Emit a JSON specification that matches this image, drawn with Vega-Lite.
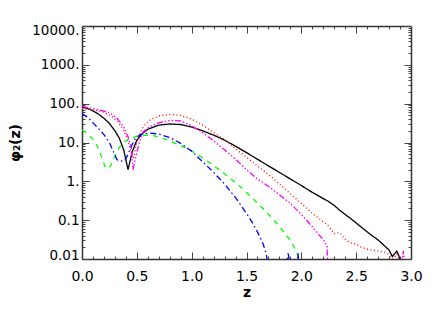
{
  "$schema": "https://vega.github.io/schema/vega-lite/v6.json",
  "width": 329,
  "height": 233,
  "autosize": {"type": "none"},
  "padding": {"left": 82, "top": 26, "right": 25, "bottom": 53},
  "background": "white",
  "config": {
    "view": {"stroke": null},
    "font": "DejaVu Sans",
    "axis": {
      "grid": false,
      "domainColor": "#333",
      "domainWidth": 1.5,
      "tickColor": "#444",
      "tickWidth": 1,
      "labelFont": "DejaVu Sans",
      "labelFontSize": 14,
      "labelColor": "#000",
      "titleFont": "DejaVu Sans",
      "titleFontSize": 14,
      "titleColor": "#000"
    }
  },
  "data": {
    "values": [
      {"z":0,"v":81,"s":"k"},{"z":0.05,"v":75,"s":"k"},{"z":0.1,"v":65,"s":"k"},{"z":0.15,"v":54,"s":"k"},{"z":0.2,"v":42,"s":"k"},{"z":0.25,"v":31,"s":"k"},{"z":0.3,"v":20,"s":"k"},{"z":0.34,"v":13,"s":"k"},{"z":0.38,"v":6.5,"s":"k"},{"z":0.42,"v":2.0,"s":"k"},{"z":0.44,"v":3.5,"s":"k"},{"z":0.46,"v":6,"s":"k"},{"z":0.5,"v":11.5,"s":"k"},{"z":0.55,"v":17,"s":"k"},{"z":0.6,"v":22,"s":"k"},{"z":0.7,"v":28,"s":"k"},{"z":0.8,"v":30,"s":"k"},{"z":0.9,"v":29,"s":"k"},{"z":1.0,"v":25,"s":"k"},{"z":1.1,"v":20,"s":"k"},{"z":1.2,"v":15.5,"s":"k"},{"z":1.3,"v":11.5,"s":"k"},{"z":1.4,"v":8,"s":"k"},{"z":1.5,"v":5.5,"s":"k"},{"z":1.6,"v":3.7,"s":"k"},{"z":1.7,"v":2.5,"s":"k"},{"z":1.8,"v":1.7,"s":"k"},{"z":1.9,"v":1.15,"s":"k"},{"z":2.0,"v":0.78,"s":"k"},{"z":2.1,"v":0.52,"s":"k"},{"z":2.2,"v":0.36,"s":"k"},{"z":2.25,"v":0.3,"s":"k"},{"z":2.3,"v":0.24,"s":"k"},{"z":2.35,"v":0.18,"s":"k"},{"z":2.4,"v":0.14,"s":"k"},{"z":2.45,"v":0.11,"s":"k"},{"z":2.5,"v":0.085,"s":"k"},{"z":2.55,"v":0.065,"s":"k"},{"z":2.6,"v":0.05,"s":"k"},{"z":2.65,"v":0.039,"s":"k"},{"z":2.7,"v":0.031,"s":"k"},{"z":2.75,"v":0.023,"s":"k"},{"z":2.8,"v":0.017,"s":"k"},{"z":2.83,"v":0.0115,"s":"k"},{"z":2.87,"v":0.016,"s":"k"},{"z":2.89,"v":0.012,"s":"k"},{"z":2.91,"v":0.008,"s":"k"},
      {"z":0,"v":75,"s":"r"},{"z":0.1,"v":70,"s":"r"},{"z":0.2,"v":60,"s":"r"},{"z":0.28,"v":45,"s":"r"},{"z":0.33,"v":33,"s":"r"},{"z":0.38,"v":21,"s":"r"},{"z":0.42,"v":11,"s":"r"},{"z":0.45,"v":5,"s":"r"},{"z":0.47,"v":3.8,"s":"r"},{"z":0.49,"v":8,"s":"r"},{"z":0.52,"v":15,"s":"r"},{"z":0.56,"v":26,"s":"r"},{"z":0.62,"v":38,"s":"r"},{"z":0.7,"v":48,"s":"r"},{"z":0.8,"v":53,"s":"r"},{"z":0.9,"v":50,"s":"r"},{"z":1.0,"v":40,"s":"r"},{"z":1.1,"v":28,"s":"r"},{"z":1.2,"v":18,"s":"r"},{"z":1.3,"v":12,"s":"r"},{"z":1.4,"v":6.8,"s":"r"},{"z":1.5,"v":4.2,"s":"r"},{"z":1.6,"v":2.5,"s":"r"},{"z":1.7,"v":1.5,"s":"r"},{"z":1.8,"v":0.85,"s":"r"},{"z":1.9,"v":0.48,"s":"r"},{"z":2.0,"v":0.27,"s":"r"},{"z":2.1,"v":0.15,"s":"r"},{"z":2.2,"v":0.09,"s":"r"},{"z":2.25,"v":0.07,"s":"r"},{"z":2.3,"v":0.045,"s":"r"},{"z":2.35,"v":0.048,"s":"r"},{"z":2.4,"v":0.032,"s":"r"},{"z":2.45,"v":0.026,"s":"r"},{"z":2.5,"v":0.024,"s":"r"},{"z":2.55,"v":0.02,"s":"r"},{"z":2.6,"v":0.018,"s":"r"},{"z":2.7,"v":0.016,"s":"r"},{"z":2.78,"v":0.0145,"s":"r"},{"z":2.82,"v":0.011,"s":"r"},{"z":2.84,"v":0.009,"s":"r"},{"z":2.87,"v":0.015,"s":"r"},{"z":2.89,"v":0.008,"s":"r"},
      {"z":0,"v":85,"s":"m"},{"z":0.1,"v":75,"s":"m"},{"z":0.2,"v":64,"s":"m"},{"z":0.26,"v":56,"s":"m"},{"z":0.32,"v":42,"s":"m"},{"z":0.38,"v":25,"s":"m"},{"z":0.42,"v":14,"s":"m"},{"z":0.45,"v":7,"s":"m"},{"z":0.465,"v":2.0,"s":"m"},{"z":0.48,"v":3.2,"s":"m"},{"z":0.5,"v":5.5,"s":"m"},{"z":0.53,"v":12,"s":"m"},{"z":0.56,"v":19,"s":"m"},{"z":0.62,"v":26,"s":"m"},{"z":0.7,"v":32,"s":"m"},{"z":0.8,"v":37,"s":"m"},{"z":0.9,"v":36,"s":"m"},{"z":1.0,"v":27,"s":"m"},{"z":1.1,"v":18,"s":"m"},{"z":1.2,"v":11,"s":"m"},{"z":1.3,"v":6.5,"s":"m"},{"z":1.4,"v":3.7,"s":"m"},{"z":1.5,"v":2.0,"s":"m"},{"z":1.6,"v":1.15,"s":"m"},{"z":1.7,"v":0.75,"s":"m"},{"z":1.8,"v":0.45,"s":"m"},{"z":1.9,"v":0.27,"s":"m"},{"z":2.0,"v":0.14,"s":"m"},{"z":2.1,"v":0.068,"s":"m"},{"z":2.15,"v":0.045,"s":"m"},{"z":2.2,"v":0.032,"s":"m"},{"z":2.235,"v":0.022,"s":"m"},{"z":2.24,"v":0.005,"s":"m"},{"z":2.91,"v":0.005,"s":"m"},{"z":2.93,"v":0.016,"s":"m"},{"z":2.95,"v":0.005,"s":"m"},
      {"z":0,"v":21,"s":"g"},{"z":0.05,"v":17,"s":"g"},{"z":0.1,"v":12,"s":"g"},{"z":0.14,"v":8,"s":"g"},{"z":0.18,"v":4.2,"s":"g"},{"z":0.21,"v":2.4,"s":"g"},{"z":0.23,"v":2.1,"s":"g"},{"z":0.26,"v":2.5,"s":"g"},{"z":0.29,"v":3.8,"s":"g"},{"z":0.32,"v":6,"s":"g"},{"z":0.36,"v":9,"s":"g"},{"z":0.42,"v":12,"s":"g"},{"z":0.5,"v":14.5,"s":"g"},{"z":0.58,"v":15.5,"s":"g"},{"z":0.65,"v":15,"s":"g"},{"z":0.75,"v":12.5,"s":"g"},{"z":0.85,"v":9.5,"s":"g"},{"z":0.95,"v":7.2,"s":"g"},{"z":1.05,"v":5,"s":"g"},{"z":1.15,"v":3.2,"s":"g"},{"z":1.25,"v":2.0,"s":"g"},{"z":1.35,"v":1.2,"s":"g"},{"z":1.45,"v":0.7,"s":"g"},{"z":1.55,"v":0.38,"s":"g"},{"z":1.65,"v":0.2,"s":"g"},{"z":1.75,"v":0.1,"s":"g"},{"z":1.8,"v":0.07,"s":"g"},{"z":1.85,"v":0.045,"s":"g"},{"z":1.9,"v":0.03,"s":"g"},{"z":1.95,"v":0.017,"s":"g"},{"z":1.97,"v":0.012,"s":"g"},{"z":1.98,"v":0.005,"s":"g"},
      {"z":0,"v":55,"s":"b"},{"z":0.05,"v":45,"s":"b"},{"z":0.1,"v":32,"s":"b"},{"z":0.15,"v":23,"s":"b"},{"z":0.2,"v":16,"s":"b"},{"z":0.25,"v":10,"s":"b"},{"z":0.29,"v":5.5,"s":"b"},{"z":0.32,"v":3.6,"s":"b"},{"z":0.35,"v":3.3,"s":"b"},{"z":0.39,"v":3.4,"s":"b"},{"z":0.42,"v":5,"s":"b"},{"z":0.45,"v":8,"s":"b"},{"z":0.48,"v":12,"s":"b"},{"z":0.53,"v":16,"s":"b"},{"z":0.62,"v":17.5,"s":"b"},{"z":0.7,"v":16.5,"s":"b"},{"z":0.8,"v":13.5,"s":"b"},{"z":0.9,"v":9.5,"s":"b"},{"z":1.0,"v":6,"s":"b"},{"z":1.1,"v":3.2,"s":"b"},{"z":1.2,"v":1.7,"s":"b"},{"z":1.3,"v":0.85,"s":"b"},{"z":1.4,"v":0.38,"s":"b"},{"z":1.5,"v":0.15,"s":"b"},{"z":1.55,"v":0.09,"s":"b"},{"z":1.6,"v":0.05,"s":"b"},{"z":1.65,"v":0.025,"s":"b"},{"z":1.68,"v":0.014,"s":"b"},{"z":1.7,"v":0.005,"s":"b"},{"z":1.86,"v":0.005,"s":"b"},{"z":1.88,"v":0.015,"s":"b"},{"z":1.9,"v":0.005,"s":"b"},{"z":1.96,"v":0.005,"s":"b"},{"z":1.97,"v":0.014,"s":"b"},{"z":1.98,"v":0.005,"s":"b"}
    ]
  },
  "resolve": {"axis": {"x": "independent", "y": "independent"}},
  "layer": [
    {
      "mark": {"type": "line", "clip": true, "strokeWidth": 1.3},
      "encoding": {
        "x": {
          "field": "z", "type": "quantitative",
          "scale": {"domain": [0, 3], "nice": false, "zero": false},
          "axis": {
            "title": "z", "titlePadding": -2,
            "values": [0,0.1,0.2,0.3,0.4,0.5,0.6,0.7,0.8,0.9,1,1.1,1.2,1.3,1.4,1.5,1.6,1.7,1.8,1.9,2,2.1,2.2,2.3,2.4,2.5,2.6,2.7,2.8,2.9,3],
            "labelExpr": "abs(datum.value*2 - round(datum.value*2)) < 1e-6 ? format(datum.value, '.1f') : ''",
            "tickSize": {"condition": {"test": "abs(datum.value*2 - round(datum.value*2)) < 1e-6", "value": -7}, "value": -3},
            "labelPadding": 24,
            "labelBaseline": "middle",
            "labelFlush": false,
            "labelOverlap": false
          }
        },
        "y": {
          "field": "v", "type": "quantitative",
          "scale": {"type": "log", "domain": [0.01, 10000], "nice": false},
          "axis": {
            "title": "φ₂(z)", "titleFontWeight": "bold", "titlePadding": 9,
            "values": [0.01,0.02,0.03,0.04,0.05,0.06,0.07,0.08,0.09,0.1,0.2,0.3,0.4,0.5,0.6,0.7,0.8,0.9,1,2,3,4,5,6,7,8,9,10,20,30,40,50,60,70,80,90,100,200,300,400,500,600,700,800,900,1000,2000,3000,4000,5000,6000,7000,8000,9000,10000],
            "labelExpr": "abs(log(datum.value)/LN10 - round(log(datum.value)/LN10)) < 1e-6 ? (datum.value >= 1 ? format(datum.value, 'd') + '.' : format(datum.value, '~g')) : ''",
            "tickSize": {"condition": {"test": "abs(log(datum.value)/LN10 - round(log(datum.value)/LN10)) < 1e-6", "value": -7}, "value": -3},
            "labelFontSize": 13.5,
            "labelPadding": 10,
            "labelOverlap": false,
            "labelFlush": true,
            "labelFlushOffset": 3
          }
        },
        "color": {
          "field": "s", "type": "nominal",
          "scale": {"domain": ["k","r","m","g","b"], "range": ["#000000","#ff0000","#ff00ff","#00ff00","#0000ff"]},
          "legend": null
        },
        "strokeDash": {
          "field": "s", "type": "nominal",
          "scale": {"domain": ["k","r","m","g","b"], "range": [[1,0],[1,2.5],[6,2,1.5,2,1.5,2,1.5,2],[5,5],[6,3,1.5,3]]},
          "legend": null
        }
      }
    },
    {
      "mark": {"type": "line", "clip": true, "opacity": 0},
      "encoding": {
        "x": {
          "field": "z", "type": "quantitative",
          "axis": {
            "orient": "top", "title": null, "labels": false,
            "values": [0,0.1,0.2,0.3,0.4,0.5,0.6,0.7,0.8,0.9,1,1.1,1.2,1.3,1.4,1.5,1.6,1.7,1.8,1.9,2,2.1,2.2,2.3,2.4,2.5,2.6,2.7,2.8,2.9,3],
            "tickSize": {"condition": {"test": "abs(datum.value*2 - round(datum.value*2)) < 1e-6", "value": -7}, "value": -3}
          }
        },
        "y": {
          "field": "v", "type": "quantitative",
          "axis": {
            "orient": "right", "title": null, "labels": false,
            "values": [0.01,0.02,0.03,0.04,0.05,0.06,0.07,0.08,0.09,0.1,0.2,0.3,0.4,0.5,0.6,0.7,0.8,0.9,1,2,3,4,5,6,7,8,9,10,20,30,40,50,60,70,80,90,100,200,300,400,500,600,700,800,900,1000,2000,3000,4000,5000,6000,7000,8000,9000,10000],
            "tickSize": {"condition": {"test": "abs(log(datum.value)/LN10 - round(log(datum.value)/LN10)) < 1e-6", "value": -7}, "value": -3}
          }
        },
        "detail": {"field": "s", "type": "nominal"}
      }
    }
  ]
}
